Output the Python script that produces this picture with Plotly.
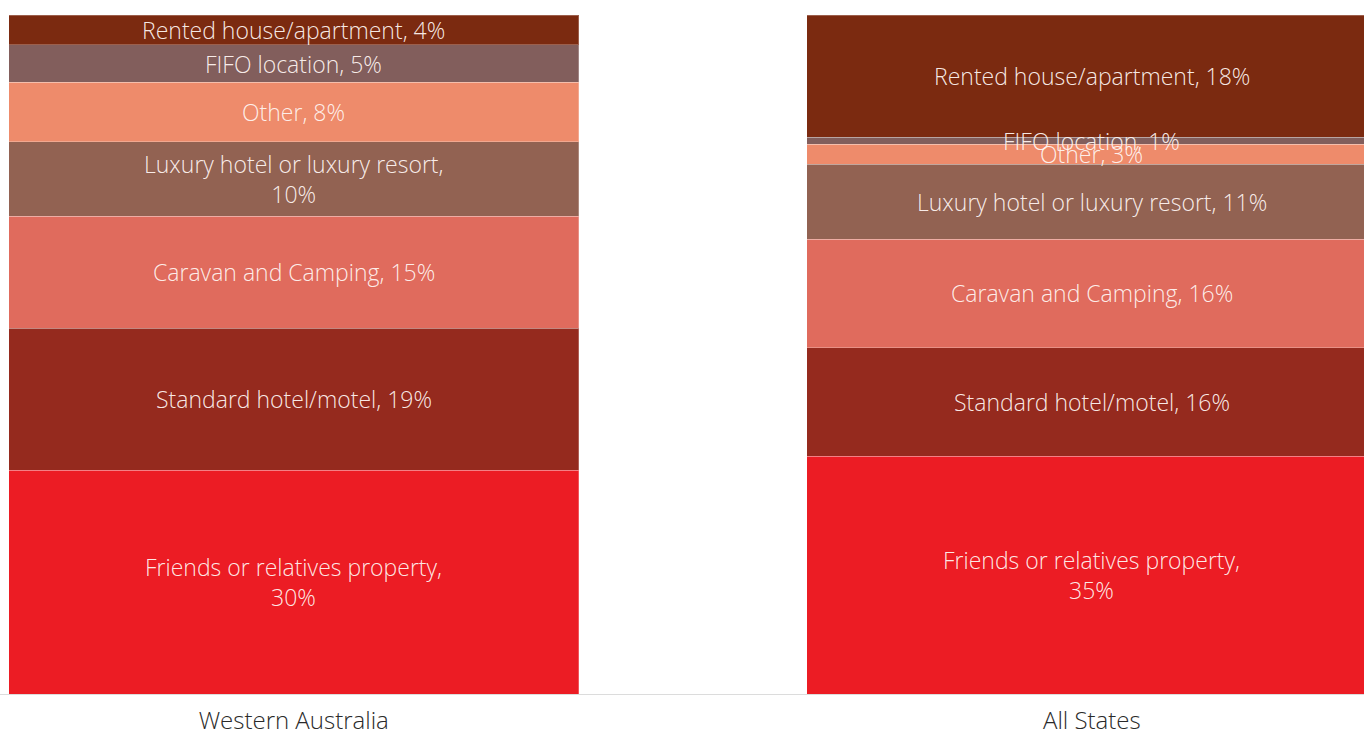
import plotly.graph_objects as go

# Accommodation type share, by region
regions = ["Western Australia", "All States"]
categories = [
    "Friends or relatives property",
    "Standard hotel/motel",
    "Caravan and Camping",
    "Luxury hotel or luxury resort",
    "Other",
    "FIFO location",
    "Rented house/apartment",
]
wa_values = [30, 19, 15, 10, 8, 5, 4]
all_states_values = [35, 16, 16, 11, 3, 1, 18]

colors = ["#EC1C24", "#952A1E", "#E06B5D", "#926252", "#EE8B6B", "#825E5C", "#7B2A10"]

# labels that wrap onto a second line, per region
wrap_wa = {"Friends or relatives property", "Luxury hotel or luxury resort"}
wrap_all = {"Friends or relatives property"}

series = {"Western Australia": wa_values, "All States": all_states_values}

LABEL_FONT = "Open Sans"

fig = go.Figure()
for i, cat in enumerate(categories):
    fig.add_trace(go.Bar(
        x=regions,
        y=[series[r][i] for r in regions],
        name=cat,
        marker=dict(color=colors[i], line=dict(color="rgba(255,255,255,0.25)", width=1)),
        width=0.714,
        hoverinfo="skip",
    ))

# segment labels placed at the middle of each normalised segment
annotations = []
for region in regions:
    vals = series[region]
    total = sum(vals)
    wraps = wrap_wa if region == "Western Australia" else wrap_all
    base = 0.0
    for cat, v in zip(categories, vals):
        share = v / total * 100
        sep = ",<br>" if cat in wraps else ", "
        annotations.append(dict(
            x=region, y=base + share / 2, xref="x", yref="y",
            text=f"{cat}{sep}{v}%", showarrow=False,
            font=dict(family=LABEL_FONT, size=23, color="rgba(255,245,242,0.95)", weight=300),
            align="center", yanchor="middle",
        ))
        base += share

fig.update_layout(
    barmode="stack",
    barnorm="percent",
    width=1364, height=735,
    margin=dict(l=0, r=0, t=15, b=41),
    paper_bgcolor="white", plot_bgcolor="white",
    showlegend=False,
    annotations=annotations,
    xaxis=dict(
        range=[-0.368, 1.341],
        automargin=False,
        showline=True, linecolor="#dcdcdc", linewidth=1,
        ticks="", showgrid=False, ticklabelstandoff=5,
        tickfont=dict(family=LABEL_FONT, size=24, color="#2a2a2a", weight=300),
    ),
    yaxis=dict(range=[0, 100], visible=False, showgrid=False, automargin=False),
)

fig.write_html("out.html")
